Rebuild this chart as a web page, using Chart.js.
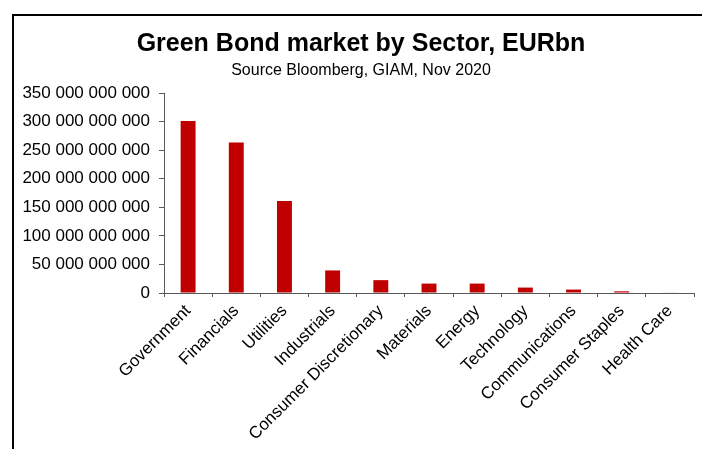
<!DOCTYPE html>
<html>
<head>
<meta charset="utf-8">
<script src="https://cdn.jsdelivr.net/npm/chart.js@4"></script>
<style>
  body { margin: 0; background: #fff; }
  #wrap { position: relative; width: 702px; height: 449px; overflow: hidden; }
  #frame { position: absolute; left: 12px; top: 14px; width: 800px; height: 600px;
           border-left: 2px solid #000; border-top: 2px solid #000; }
  canvas { position: absolute; left: 0; top: 0; }
</style>
</head>
<body>
<div id="wrap">
  <div id="frame"></div>
  <canvas id="chart" width="702" height="449"></canvas>
</div>
<script>
const sectors = ['Government', 'Financials', 'Utilities', 'Industrials', 'Consumer Discretionary',
  'Materials', 'Energy', 'Technology', 'Communications', 'Consumer Staples', 'Health Care'];
const amounts = [301e9, 263.5e9, 161e9, 39.5e9, 22.5e9, 16.5e9, 16.5e9, 9.5e9, 6e9, 3e9, 1e9];

const yMax = 350e9;
const yStep = 50e9;

const font = '"Liberation Sans", Arial, sans-serif';
const axisColor = '#595959';

function spaced(v) {
  return String(Math.round(v)).replace(/\B(?=(\d{3})+(?!\d))/g, ' ');
}

// the headings sit a bit right of the canvas centre in the original
const nudgeTitles = {
  id: 'nudgeTitles',
  afterLayout(chart) {
    chart.boxes.forEach(b => {
      if (b.position === 'top' && b.options && b.options.text !== undefined) {
        b.left += 7;
        b.right += 7;
      }
    });
  }
};

const ctx = document.getElementById('chart').getContext('2d');
new Chart(ctx, {
  type: 'bar',
  data: {
    labels: sectors,
    datasets: [{
      data: amounts,
      backgroundColor: '#C00000',
      borderWidth: 0,
      barPercentage: 0.31,
      categoryPercentage: 1
    }]
  },
  plugins: [nudgeTitles],
  options: {
    responsive: false,
    animation: false,
    devicePixelRatio: 1,
    layout: { padding: { left: 14, right: 8, top: 0, bottom: 0 } },
    plugins: {
      legend: { display: false },
      tooltip: { enabled: false },
      title: {
        display: true,
        text: 'Green Bond market by Sector, EURbn',
        color: '#000',
        font: { family: font, size: 25, weight: 'bold' },
        padding: { top: 29, bottom: 2.4 }
      },
      subtitle: {
        display: true,
        text: 'Source Bloomberg, GIAM, Nov 2020',
        color: '#000',
        font: { family: font, size: 16 },
        padding: { top: 0, bottom: 12.4 }
      }
    },
    scales: {
      x: {
        afterFit: s => { s.height = 156; },
        grid: { offset: true, drawOnChartArea: false, color: axisColor, tickLength: 4 },
        border: { color: axisColor, width: 1 },
        ticks: {
          color: '#000',
          font: { family: font, size: 17 },
          minRotation: 45,
          maxRotation: 45,
          autoSkip: false,
          padding: 4
        }
      },
      y: {
        min: 0,
        max: yMax,
        afterFit: s => { s.width = 150; },
        grid: { drawOnChartArea: false, color: axisColor, tickLength: 5 },
        border: { color: axisColor, width: 1 },
        ticks: {
          stepSize: yStep,
          color: '#000',
          font: { family: font, size: 17 },
          padding: 9,
          callback: v => spaced(v)
        }
      }
    }
  }
});
</script>
</body>
</html>
